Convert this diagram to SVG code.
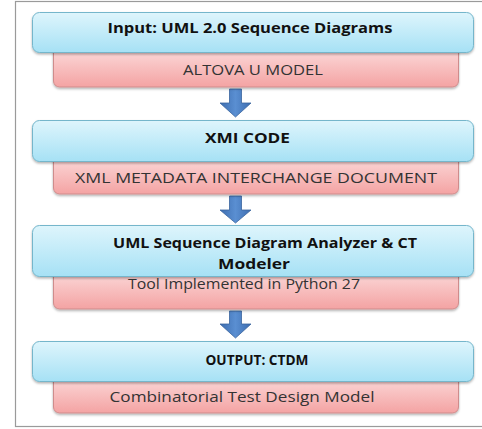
<svg xmlns="http://www.w3.org/2000/svg" width="482" height="429" viewBox="0 0 482 429">
  <defs>
    <linearGradient id="gBlue" x1="0" y1="0" x2="0" y2="1">
      <stop offset="0" stop-color="#def5fc"/>
      <stop offset="1" stop-color="#a6e1f5"/>
    </linearGradient>
    <linearGradient id="gPink" x1="0" y1="0" x2="0" y2="1">
      <stop offset="0" stop-color="#fde6e6"/>
      <stop offset="1" stop-color="#f4a3a3"/>
    </linearGradient>
    <linearGradient id="gArrow" x1="0" y1="0" x2="1" y2="0">
      <stop offset="0" stop-color="#3d6db0"/>
      <stop offset="0.5" stop-color="#5a8fd2"/>
      <stop offset="1" stop-color="#3d6db0"/>
    </linearGradient>
    <filter id="shadow" x="-5%" y="-20%" width="110%" height="150%">
      <feDropShadow dx="0" dy="1.5" stdDeviation="1.2" flood-color="#000" flood-opacity="0.3"/>
    </filter>
  </defs>
  <style>
    .top { fill: url(#gBlue); stroke: #74b6cb; stroke-width: 1; filter: url(#shadow); }
    .sub { fill: url(#gPink); stroke: #cf8c8c; stroke-width: 1; filter: url(#shadow); }
    .arrow { fill: url(#gArrow); stroke: #3a649e; stroke-width: 0.8; }
    .title { font-family: "Open Sans", "Liberation Sans", sans-serif; font-weight: bold; font-size: 14px; fill: #111; }
    .note { font-family: "Open Sans", "Liberation Sans", sans-serif; font-size: 14px; fill: #333; }
  </style>

  <rect width="482" height="429" fill="#ffffff"/>
  <!-- outer frame -->
  <rect x="15.5" y="1.5" width="470" height="425" fill="none" stroke="#9a9a9a" stroke-width="1.2"/>

  <g id="connectors">
    <path class="arrow" d="M229.5 89 H241.5 V103 H251 L235.5 117 L220 103 H229.5 Z"/>
    <path class="arrow" d="M229.5 196 H241.5 V210 H251 L235.5 223 L220 210 H229.5 Z"/>
    <path class="arrow" d="M229.5 311 H241.5 V324 H251 L235.5 338 L220 324 H229.5 Z"/>
  </g>

  <g id="step-input">
    <rect class="sub" x="53.5" y="40" width="405" height="47" rx="6"/>
    <rect class="top" x="32.5" y="12.5" width="441" height="40" rx="7"/>
    <text class="title" x="250" y="33" text-anchor="middle" textLength="285" lengthAdjust="spacingAndGlyphs">Input: UML 2.0 Sequence Diagrams</text>
    <text class="note" x="253" y="75" text-anchor="middle" textLength="140" lengthAdjust="spacingAndGlyphs">ALTOVA U MODEL</text>
  </g>

  <g id="step-xmi">
    <rect class="sub" x="53.5" y="148" width="405" height="46" rx="6"/>
    <rect class="top" x="32.5" y="120.5" width="441" height="41" rx="7"/>
    <text class="title" x="247.5" y="143" text-anchor="middle" textLength="85" lengthAdjust="spacingAndGlyphs">XMI CODE</text>
    <text class="note" x="256" y="183" text-anchor="middle" textLength="362" lengthAdjust="spacingAndGlyphs">XML METADATA INTERCHANGE DOCUMENT</text>
  </g>

  <g id="step-analyzer">
    <rect class="sub" x="53.5" y="262" width="405" height="47" rx="6"/>
    <rect class="top" x="32.5" y="225.5" width="441" height="51" rx="7"/>
    <text class="title" x="265" y="248" text-anchor="middle" textLength="304" lengthAdjust="spacingAndGlyphs">UML Sequence Diagram Analyzer &amp; CT</text>
    <text class="title" x="254" y="269" text-anchor="middle" textLength="72" lengthAdjust="spacingAndGlyphs">Modeler</text>
    <text class="note" x="244" y="289" text-anchor="middle" textLength="232" lengthAdjust="spacingAndGlyphs">Tool Implemented in Python 27</text>
  </g>

  <g id="step-output">
    <rect class="sub" x="53.5" y="368" width="405" height="45" rx="6"/>
    <rect class="top" x="32.5" y="341.5" width="441" height="40" rx="7"/>
    <text class="title" x="257" y="365" text-anchor="middle" textLength="103" lengthAdjust="spacingAndGlyphs">OUTPUT: CTDM</text>
    <text class="note" x="242" y="402" text-anchor="middle" textLength="265" lengthAdjust="spacingAndGlyphs">Combinatorial Test Design Model</text>
  </g>
</svg>
